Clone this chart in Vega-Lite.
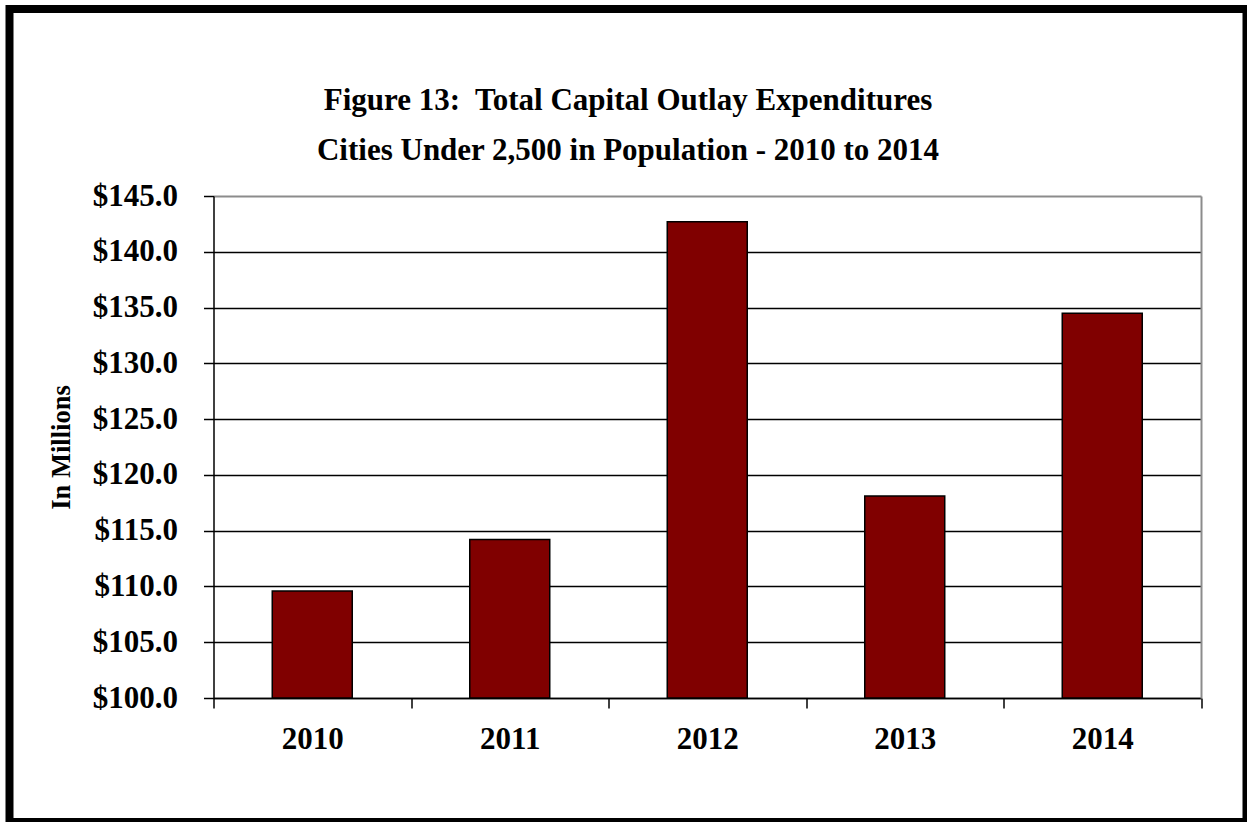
{
  "$schema": "https://vega.github.io/schema/vega-lite/v6.json",
  "width": 1237,
  "height": 813,
  "autosize": {"type": "none"},
  "padding": {"left": 9.5, "top": 9, "right": 0, "bottom": 0},
  "background": "white",
  "config": {
    "view": {"stroke": "black", "strokeWidth": 8, "fill": "white"},
    "font": "Liberation Serif"
  },
  "title": {
    "text": ["Figure 13:\u00a0 Total Capital Outlay Expenditures", "Cities Under 2,500 in Population - 2010 to 2014"],
    "font": "Liberation Serif",
    "fontSize": 31,
    "fontWeight": "bold",
    "color": "black",
    "anchor": "middle",
    "frame": "group",
    "baseline": "alphabetic",
    "lineHeight": 50,
    "offset": -182
  },
  "data": {
    "values": [
      {"year": "2010", "value": 109.6},
      {"year": "2011", "value": 114.2},
      {"year": "2012", "value": 142.7},
      {"year": "2013", "value": 118.1},
      {"year": "2014", "value": 134.5}
    ]
  },
  "encoding": {
    "x": {
      "field": "year",
      "type": "nominal",
      "scale": {"range": [204, 1191.5], "paddingInner": 0, "paddingOuter": 0},
      "axis": {
        "orient": "bottom",
        "offset": -124,
        "title": null,
        "labelAngle": 0,
        "tickBand": "extent",
        "domainColor": "black",
        "domainWidth": 1.5,
        "tickColor": "black",
        "tickWidth": 1.5,
        "tickSize": 10,
        "labelFont": "Liberation Serif",
        "labelFontSize": 31,
        "labelFontWeight": "bold",
        "labelColor": "black",
        "labelPadding": 16,
        "grid": false
      }
    }
  },
  "layer": [
    {
      "mark": {"type": "bar", "fill": "#800000", "stroke": "black", "strokeWidth": 1.5, "width": {"band": 0.405}},
      "encoding": {
        "y": {
          "field": "value",
          "type": "quantitative",
          "scale": {"domain": [100, 145], "range": [689, 187], "nice": false, "zero": false},
          "axis": {
            "orient": "left",
            "offset": -204,
            "values": [100, 105, 110, 115, 120, 125, 130, 135, 140, 145],
            "format": "$.1f",
            "title": "In Millions",
            "titleFont": "Liberation Serif",
            "titleFontSize": 26.5,
            "titleFontWeight": "bold",
            "titleColor": "black",
            "titlePadding": 17,
            "domainColor": "black",
            "domainWidth": 1.5,
            "tickColor": "black",
            "tickWidth": 1.5,
            "tickSize": 10,
            "labelFont": "Liberation Serif",
            "labelFontSize": 31,
            "labelFontWeight": "bold",
            "labelColor": "black",
            "labelPadding": 26,
            "grid": true,
            "gridColor": {"condition": {"test": "datum.value === 145", "value": "#8c8c8c"}, "value": "black"},
            "gridWidth": {"condition": {"test": "datum.value === 145", "value": 2}, "value": 1.5}
          }
        },
        "y2": {"datum": 100}
      }
    },
    {
      "mark": {"type": "bar", "opacity": 0, "width": {"band": 0.405}},
      "encoding": {
        "y": {
          "field": "value",
          "type": "quantitative",
          "axis": {
            "orient": "right",
            "offset": -45.5,
            "title": null,
            "labels": false,
            "ticks": false,
            "grid": false,
            "domainColor": "#8c8c8c",
            "domainWidth": 2
          }
        },
        "y2": {"datum": 100}
      }
    }
  ],
  "resolve": {"axis": {"y": "independent"}}
}
